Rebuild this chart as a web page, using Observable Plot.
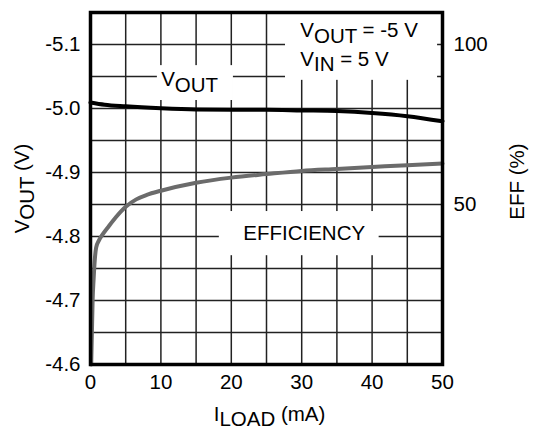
<!DOCTYPE html>
<html><head><meta charset="utf-8">
<script src="https://cdn.jsdelivr.net/npm/d3@7"></script>
<script src="https://cdn.jsdelivr.net/npm/@observablehq/plot@0.6"></script>
<style>body{margin:0;background:#fff;} svg{display:block}</style>
</head><body><div id="chart"></div>
<script>
// ---- data ----
const loadV = [0, 2, 5, 10, 15, 20, 25, 30, 35, 40, 45, 50];
const vout  = [-5.0095, -5.006, -5.0035, -5.0005, -4.9985, -4.998, -4.998, -4.997, -4.996, -4.993, -4.988, -4.980];
const loadE = [0.1, 0.2, 0.3, 0.45, 0.6, 0.8, 1.2, 1.65, 2.6, 3.6, 5, 6.5, 8, 10, 15, 20, 25, 30, 35, 40, 45, 50];
const eff   = [0, 10, 20, 27, 32.5, 36.5, 38.8, 40.4, 43.2, 46, 49.3, 51.6, 53.0, 54.3, 56.8, 58.4, 59.5, 60.5, 61.1, 61.7, 62.3, 62.8];
const xTicks = [0, 10, 20, 30, 40, 50];
const xGrid = [5, 10, 15, 20, 25, 30, 35, 40, 45];
const yTicks = [-5.1, -5.0, -4.9, -4.8, -4.7, -4.6];
const yGrid = [-5.1, -5.05, -5.0, -4.95, -4.9, -4.85, -4.8, -4.75, -4.7, -4.65];
const effTicks = [50, 100];

// annotation placement (data units)
const boxes = [
  {x1: 9.5, x2: 20.3, y1: -5.067, y2: -5.0125},
  {x1: 27.7, x2: 49.3, y1: -5.15, y2: -5.044},
  {x1: 18.3, x2: 41.0, y1: -4.839, y2: -4.770}
];
const labels = [
  {x: 10.04, y: -5.0344, t: "V_{OUT}"},
  {x: 29.8, y: -5.111, t: "V_{OUT} = -5 V"},
  {x: 29.8, y: -5.067, t: "V_{IN} = 5 V"},
  {x: 21.7, y: -4.795, t: "EFFICIENCY"}
];

// efficiency (%) mapped onto the VOUT axis: 0% at -4.6 V, 100% at -5.1 V
const effToV = e => -4.6 - e * 0.005;
const vToEff = v => (-4.6 - v) / 0.005;

const voutData = loadV.map((x, i) => ({x, y: vout[i]}));
const effData = loadE.map((x, i) => ({x, y: effToV(eff[i])}));

const font = "'Liberation Sans', Arial, Helvetica, sans-serif";
const fs = 20.5;

const chart = Plot.plot({
  width: 538,
  height: 429,
  marginLeft: 90,
  marginRight: 96,
  marginTop: 12,
  marginBottom: 65,
  style: {fontSize: fs + "px", fontFamily: font, background: "#fff", color: "#000"},
  x: {domain: [0, 50]},
  y: {domain: [-4.6, -5.15]},
  marks: [
    Plot.gridX(xGrid, {stroke: "#222", strokeOpacity: 1, strokeWidth: 1.5}),
    Plot.gridY(yGrid, {stroke: "#222", strokeOpacity: 1, strokeWidth: 1.5}),
    Plot.rect(boxes, {x1: "x1", x2: "x2", y1: "y1", y2: "y2", fill: "#fff"}),
    Plot.line(effData, {x: "x", y: "y", stroke: "#6b6b6b", strokeWidth: 4, curve: "monotone-x"}),
    Plot.line(voutData, {x: "x", y: "y", stroke: "#000", strokeWidth: 4, curve: "monotone-x"}),
    Plot.text(labels, {x: "x", y: "y", text: "t", textAnchor: "start", lineAnchor: "bottom", fontSize: fs, fill: "#000"}),
    Plot.frame({stroke: "#000", strokeWidth: 3.5}),
    Plot.axisX({ticks: xTicks, tickSize: 0, tickPadding: 10, tickFormat: d => String(d), label: null, fontSize: fs}),
    Plot.axisY({anchor: "left", ticks: yTicks, tickSize: 0, tickPadding: 10, tickFormat: d => d.toFixed(1), label: null, fontSize: fs}),
    Plot.axisY({anchor: "right", ticks: effTicks.map(effToV), tickSize: 0, tickPadding: 11, tickFormat: d => String(Math.round(vToEff(d))), label: null, fontSize: fs}),
    Plot.text(["V_{OUT} (V)"], {frameAnchor: "left", text: d => d, textAnchor: "middle", rotate: -90, dx: -68, fontSize: fs, fill: "#000"}),
    Plot.text(["EFF (%)"], {frameAnchor: "right", text: d => d, textAnchor: "middle", rotate: -90, dx: 75, dy: -7, fontSize: fs, fill: "#000"}),
    Plot.text(["I_{LOAD} (mA)"], {frameAnchor: "bottom", text: d => d, textAnchor: "middle", lineAnchor: "bottom", dx: 3, dy: 56, fontSize: fs, fill: "#000"})
  ]
});

// turn _{...} into subscripts
function applySubscripts(svg) {
  svg.querySelectorAll("text").forEach(t => {
    const tsp = [...t.querySelectorAll("tspan")];
    const nodes = tsp.length ? tsp : [t];
    nodes.forEach(n => {
      const s = n.textContent;
      if (!s.includes("_{")) return;
      n.textContent = "";
      let shifted = false;
      s.split(/(_\{[^}]*\})/).forEach(p => {
        if (!p) return;
        const ts = document.createElementNS("http://www.w3.org/2000/svg", "tspan");
        if (p.startsWith("_{")) {
          ts.textContent = p.slice(2, -1);
          ts.setAttribute("dy", "0.26em");
          shifted = true;
        } else {
          ts.textContent = p;
          if (shifted) { ts.setAttribute("dy", "-0.26em"); shifted = false; }
        }
        n.appendChild(ts);
      });
    });
  });
}
applySubscripts(chart);
document.getElementById("chart").appendChild(chart);
</script>
</body></html>
